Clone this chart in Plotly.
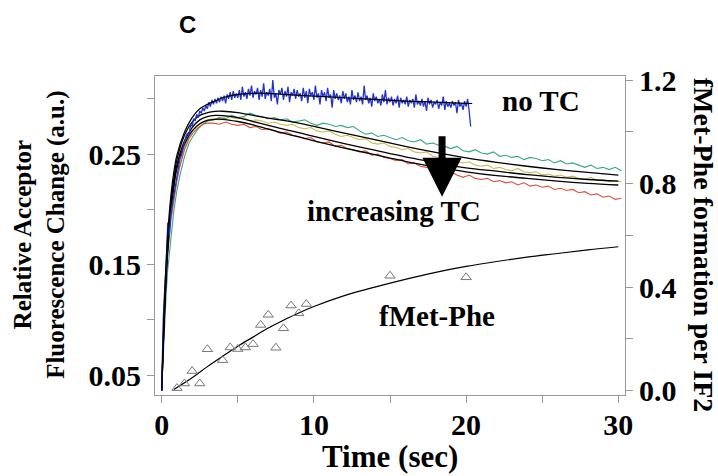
import plotly.graph_objects as go

# ---------------- data ----------------
# blue "no TC" trace, sampled every 0.1 s from t = 0
BLUE_T0 = 0.0
BLUE_DT = 0.1
blue_trace = [
    0.036, 0.100, 0.128, 0.152, 0.188, 0.176, 0.196, 0.204, 0.215, 0.221,
    0.231, 0.236, 0.246, 0.249, 0.256, 0.261, 0.266, 0.269, 0.267, 0.277,
    0.275, 0.282, 0.280, 0.286, 0.283, 0.289, 0.287, 0.292, 0.289, 0.294,
    0.291, 0.297, 0.293, 0.299, 0.295, 0.300, 0.296, 0.301, 0.297, 0.302,
    0.298, 0.303, 0.296, 0.304, 0.300, 0.306, 0.299, 0.307, 0.301, 0.305,
    0.301, 0.308, 0.299, 0.311, 0.302, 0.306, 0.300, 0.309, 0.303, 0.312,
    0.301, 0.307, 0.304, 0.310, 0.299, 0.308, 0.302, 0.314, 0.300, 0.306,
    0.303, 0.309, 0.298, 0.317, 0.301, 0.305, 0.295, 0.308, 0.304, 0.310,
    0.299, 0.307, 0.302, 0.311, 0.297, 0.306, 0.303, 0.309, 0.300, 0.308,
    0.302, 0.305, 0.298, 0.310, 0.301, 0.307, 0.296, 0.309, 0.303, 0.306,
    0.299, 0.312, 0.301, 0.305, 0.295, 0.308, 0.302, 0.306, 0.298, 0.310,
    0.301, 0.304, 0.292, 0.308, 0.300, 0.305, 0.299, 0.303, 0.296, 0.307,
    0.300, 0.305, 0.297, 0.302, 0.295, 0.308, 0.299, 0.303, 0.297, 0.306,
    0.298, 0.302, 0.295, 0.312, 0.299, 0.303, 0.296, 0.301, 0.293, 0.305,
    0.298, 0.302, 0.296, 0.300, 0.294, 0.304, 0.297, 0.308, 0.295, 0.301,
    0.297, 0.302, 0.294, 0.300, 0.296, 0.303, 0.292, 0.301, 0.296, 0.299,
    0.295, 0.302, 0.293, 0.299, 0.296, 0.300, 0.292, 0.304, 0.295, 0.298,
    0.294, 0.300, 0.293, 0.298, 0.289, 0.301, 0.295, 0.299, 0.292, 0.297,
    0.295, 0.299, 0.291, 0.297, 0.294, 0.302, 0.290, 0.298, 0.293, 0.296,
    0.292, 0.298, 0.294, 0.297, 0.287, 0.299, 0.293, 0.296, 0.290, 0.298,
    0.293, 0.300, 0.289, 0.275,
]

# fitted curve for the "no TC" trace
blue_fit_t = [0, 0.2, 0.4, 0.6, 0.8, 1.0, 1.5, 2.0, 2.5, 3.0, 3.5, 4.0, 5.0, 6.0,
              7.0, 8.0, 10.0, 12.0, 14.0, 16.0, 18.0, 20.0, 20.4]
blue_fit = [0.036, 0.125, 0.178, 0.212, 0.234, 0.249, 0.270, 0.283, 0.291, 0.295,
            0.298, 0.301, 0.304, 0.305, 0.305, 0.304, 0.3025, 0.301, 0.2995,
            0.298, 0.297, 0.296, 0.2958]

# traces with increasing TC (shared time base)
tc_time = [0, 0.1, 0.2, 0.3, 0.4, 0.6, 0.8, 1.0, 1.2, 1.5, 1.8, 2.1, 2.4, 2.7, 3.0,
           3.4, 3.8, 4.2, 4.6, 5.0, 5.4, 5.8, 6.2, 6.6, 7.0, 7.4, 7.8, 8.2, 8.6,
           9.0, 9.4, 9.8, 10.2, 10.6, 11.0, 11.4, 11.8, 12.2, 12.6, 13.0, 13.4,
           13.8, 14.2, 14.6, 15.0, 15.4, 15.8, 16.2, 16.6, 17.0, 17.4, 17.8,
           18.2, 18.6, 19.0, 19.4, 19.8, 20.2, 20.6, 21.0, 21.4, 21.8, 22.2,
           22.6, 23.0, 23.4, 23.8, 24.2, 24.6, 25.0, 25.4, 25.8, 26.2, 26.6,
           27.0, 27.4, 27.8, 28.2, 28.6, 29.0, 29.4, 29.8, 30.2]

green_trace = [
    0.036, 0.070, 0.100, 0.125, 0.146, 0.176, 0.199, 0.217, 0.231, 0.248,
    0.260, 0.267, 0.273, 0.277, 0.280,
    0.281, 0.283, 0.282, 0.285, 0.283, 0.284, 0.287, 0.285, 0.284, 0.282,
    0.283, 0.281, 0.282, 0.279, 0.280, 0.281, 0.278, 0.276, 0.278, 0.277,
    0.275, 0.276, 0.274, 0.275, 0.271, 0.268, 0.269, 0.266, 0.267, 0.265,
    0.263, 0.265, 0.262, 0.261, 0.263, 0.259, 0.260, 0.258, 0.257, 0.255,
    0.257, 0.253, 0.252, 0.254, 0.251, 0.250, 0.252, 0.248, 0.249, 0.247,
    0.248, 0.245, 0.247, 0.246, 0.244, 0.245, 0.242, 0.244, 0.241, 0.242,
    0.240, 0.238, 0.240, 0.237, 0.238, 0.236, 0.238, 0.235,
]
yellow_trace = [
    0.036, 0.085, 0.118, 0.142, 0.162, 0.191, 0.212, 0.228, 0.241, 0.256,
    0.266, 0.272, 0.276, 0.279, 0.281,
    0.282, 0.281, 0.284, 0.283, 0.282, 0.283, 0.280, 0.281, 0.280, 0.278,
    0.279, 0.277, 0.276, 0.277, 0.274, 0.273, 0.274, 0.271, 0.270, 0.271,
    0.268, 0.266, 0.267, 0.265, 0.263, 0.264, 0.260, 0.259, 0.260, 0.257,
    0.256, 0.254, 0.255, 0.252, 0.251, 0.252, 0.248, 0.247, 0.245, 0.246,
    0.243, 0.242, 0.243, 0.240, 0.239, 0.240, 0.237, 0.238, 0.236, 0.235,
    0.237, 0.234, 0.233, 0.234, 0.231, 0.232, 0.230, 0.231, 0.229, 0.230,
    0.228, 0.227, 0.229, 0.226, 0.227, 0.225, 0.226, 0.225,
]
red_trace = [
    0.036, 0.082, 0.115, 0.140, 0.160, 0.190, 0.210, 0.226, 0.239, 0.254,
    0.264, 0.270, 0.274, 0.277, 0.278,
    0.278, 0.277, 0.279, 0.277, 0.276, 0.277, 0.274, 0.275, 0.272, 0.273,
    0.271, 0.269, 0.270, 0.267, 0.266, 0.264, 0.265, 0.261, 0.260, 0.261,
    0.257, 0.258, 0.255, 0.254, 0.252, 0.253, 0.249, 0.250, 0.247, 0.246,
    0.244, 0.245, 0.241, 0.242, 0.239, 0.238, 0.236, 0.237, 0.233, 0.234,
    0.231, 0.229, 0.231, 0.228, 0.227, 0.228, 0.225, 0.226, 0.224, 0.225,
    0.222, 0.224, 0.221, 0.222, 0.220, 0.221, 0.218, 0.219, 0.217, 0.218,
    0.215, 0.216, 0.213, 0.214, 0.211, 0.212, 0.209, 0.210,
]

# fitted curves for the TC traces
fit_t = [0, 0.2, 0.4, 0.6, 0.8, 1.0, 1.5, 2, 2.5, 3, 3.5, 4, 5, 6, 7, 8, 9, 10,
         12, 14, 16, 18, 20, 22, 24, 26, 28, 30]
fit_a = [0.036, 0.115, 0.170, 0.205, 0.228, 0.245, 0.267, 0.279, 0.285, 0.2875,
         0.2887, 0.2888, 0.2875, 0.285, 0.2825, 0.2805, 0.278, 0.275, 0.269,
         0.263, 0.257, 0.2515, 0.2465, 0.2425, 0.239, 0.236, 0.2335, 0.231]
fit_b = [0.036, 0.112, 0.166, 0.200, 0.223, 0.240, 0.262, 0.274, 0.281, 0.284,
         0.285, 0.2848, 0.283, 0.2795, 0.276, 0.2725, 0.2695, 0.266, 0.2595,
         0.2535, 0.2475, 0.2425, 0.2375, 0.2345, 0.2315, 0.229, 0.227, 0.2255]
fit_c = [0.036, 0.110, 0.163, 0.197, 0.220, 0.237, 0.259, 0.271, 0.2775, 0.2805,
         0.2815, 0.2815, 0.2795, 0.2765, 0.2725, 0.269, 0.2655, 0.262, 0.2555,
         0.2495, 0.2435, 0.2385, 0.234, 0.2305, 0.228, 0.2255, 0.2235, 0.222]

# fMet-Phe formation per IF2 (right axis)
fmet_t = [1, 1.5, 2, 2.5, 3, 4, 4.5, 5, 5.5, 6, 6.5, 7, 7.5, 8, 8.5, 9, 9.5, 15, 20]
fmet_v = [0.010, 0.028, 0.076, 0.028, 0.160, 0.118, 0.167, 0.161, 0.167, 0.180,
          0.254, 0.293, 0.166, 0.241, 0.329, 0.299, 0.335, 0.444, 0.438]
fmet_fit_t = [0.8, 2, 3, 4, 5, 6, 7, 8, 9, 10, 12, 14, 16, 18, 20, 22, 24, 26, 28, 30]
fmet_fit = [0.005, 0.050, 0.093, 0.133, 0.172, 0.207, 0.242, 0.272, 0.300, 0.325,
            0.367, 0.400, 0.430, 0.457, 0.480, 0.499, 0.516, 0.530, 0.544, 0.556]

# tick labels
x_tickvals = [0, 5, 10, 15, 20, 25, 30]
x_ticktext = ["0", "", "10", "", "20", "", "30"]
y_tickvals = [0.05, 0.10, 0.15, 0.20, 0.25, 0.30]
y_ticktext = ["0.05", "", "0.15", "", "0.25", ""]
y2_tickvals = [0.0, 0.2, 0.4, 0.6, 0.8, 1.0, 1.2]
y2_ticktext = ["0.0", "", "0.4", "", "0.8", "", "1.2"]

# ---------------- figure ----------------
SERIF = "Liberation Serif"
C_BLUE = "#2233cc"
C_GREEN = "#36a985"
C_YELLOW = "#c8bd4c"
C_RED = "#dc4f3a"

fig = go.Figure()

for vals, col in [(green_trace, C_GREEN), (yellow_trace, C_YELLOW), (red_trace, C_RED)]:
    fig.add_trace(go.Scatter(x=tc_time, y=vals, mode="lines",
                             line=dict(color=col, width=1.1), hoverinfo="skip"))

for vals in [fit_a, fit_b, fit_c]:
    fig.add_trace(go.Scatter(x=fit_t, y=vals, mode="lines", line_shape="spline",
                             line=dict(color="black", width=1.3), hoverinfo="skip"))

fig.add_trace(go.Scatter(x0=BLUE_T0, dx=BLUE_DT, y=blue_trace, mode="lines",
                         line=dict(color=C_BLUE, width=1.3), hoverinfo="skip"))
fig.add_trace(go.Scatter(x=blue_fit_t, y=blue_fit, mode="lines", line_shape="spline",
                         line=dict(color="black", width=1.2), hoverinfo="skip"))

fig.add_trace(go.Scatter(x=fmet_fit_t, y=fmet_fit, mode="lines", line_shape="spline",
                         line=dict(color="black", width=1.2), yaxis="y2",
                         hoverinfo="skip"))
fig.add_trace(go.Scatter(x=fmet_t, y=fmet_v, mode="markers", yaxis="y2",
                         marker=dict(symbol="triangle-up-open", size=9,
                                     color="#777777", line=dict(width=1)),
                         hoverinfo="skip"))

tickfont = dict(family=SERIF, size=30, color="black", weight="bold")
axis_common = dict(showline=True, linecolor="#999999", linewidth=1,
                   ticks="outside", tickcolor="#999999", ticklen=7, tickwidth=1,
                   showgrid=False, zeroline=False, tickfont=tickfont)

fig.update_layout(
    width=718, height=476,
    margin=dict(l=155, r=93, t=76, b=81),
    paper_bgcolor="white", plot_bgcolor="white",
    showlegend=False,
    xaxis=dict(range=[-0.44, 30.44], tickvals=x_tickvals, ticktext=x_ticktext,
               mirror=True, ticklabelstandoff=-4, **axis_common),
    yaxis=dict(range=[0.0319, 0.3207], tickvals=y_tickvals, ticktext=y_ticktext,
               **axis_common),
    yaxis2=dict(range=[-0.0166, 1.2155], tickvals=y2_tickvals, ticktext=y2_ticktext,
                overlaying="y", side="right", **axis_common),
)

ann_font = dict(family=SERIF, size=29, color="black")
fig.add_annotation(x=24.92, y=0.2985, xref="x", yref="y", text="<b>no TC</b>",
                   showarrow=False, font=ann_font, xanchor="center", yanchor="middle")
fig.add_annotation(x=15.26, y=0.1986, xref="x", yref="y", text="<b>increasing TC</b>",
                   showarrow=False, font=ann_font, xanchor="center", yanchor="middle")
fig.add_annotation(x=18.12, y=0.1034, xref="x", yref="y", text="<b>fMet-Phe</b>",
                   showarrow=False, font=ann_font, xanchor="center", yanchor="middle")
# arrow
fig.add_annotation(x=18.42, y=0.2113, ax=18.42, ay=0.2675, xref="x", yref="y",
                   axref="x", ayref="y", text="", showarrow=True, arrowhead=2,
                   arrowwidth=7, arrowsize=1.12, arrowcolor="black")
# panel letter
fig.add_annotation(x=0.0702, y=1.1617, xref="paper", yref="paper", text="<b>C</b>",
                   showarrow=False, xanchor="center", yanchor="middle",
                   font=dict(family="Liberation Sans", size=24, color="black"))
# axis titles
fig.add_annotation(x=-0.2447, y=0.502, xref="paper", yref="paper",
                   text="<b>Relative Acceptor<br>Fluorescence Change (a.u.)</b>",
                   textangle=-90, showarrow=False, xanchor="center", yanchor="middle",
                   font=dict(family=SERIF, size=25, color="black"))
fig.add_annotation(x=1.166, y=0.471, xref="paper", yref="paper",
                   text="<b>fMet-Phe formation per IF2</b>",
                   textangle=90, showarrow=False, xanchor="center", yanchor="middle",
                   font=dict(family=SERIF, size=28, color="black"))
fig.add_annotation(x=0.5, y=-0.1915, xref="paper", yref="paper",
                   text="<b>Time (sec)</b>", showarrow=False,
                   xanchor="center", yanchor="middle",
                   font=dict(family=SERIF, size=31, color="black"))

fig.write_html("out.html")
